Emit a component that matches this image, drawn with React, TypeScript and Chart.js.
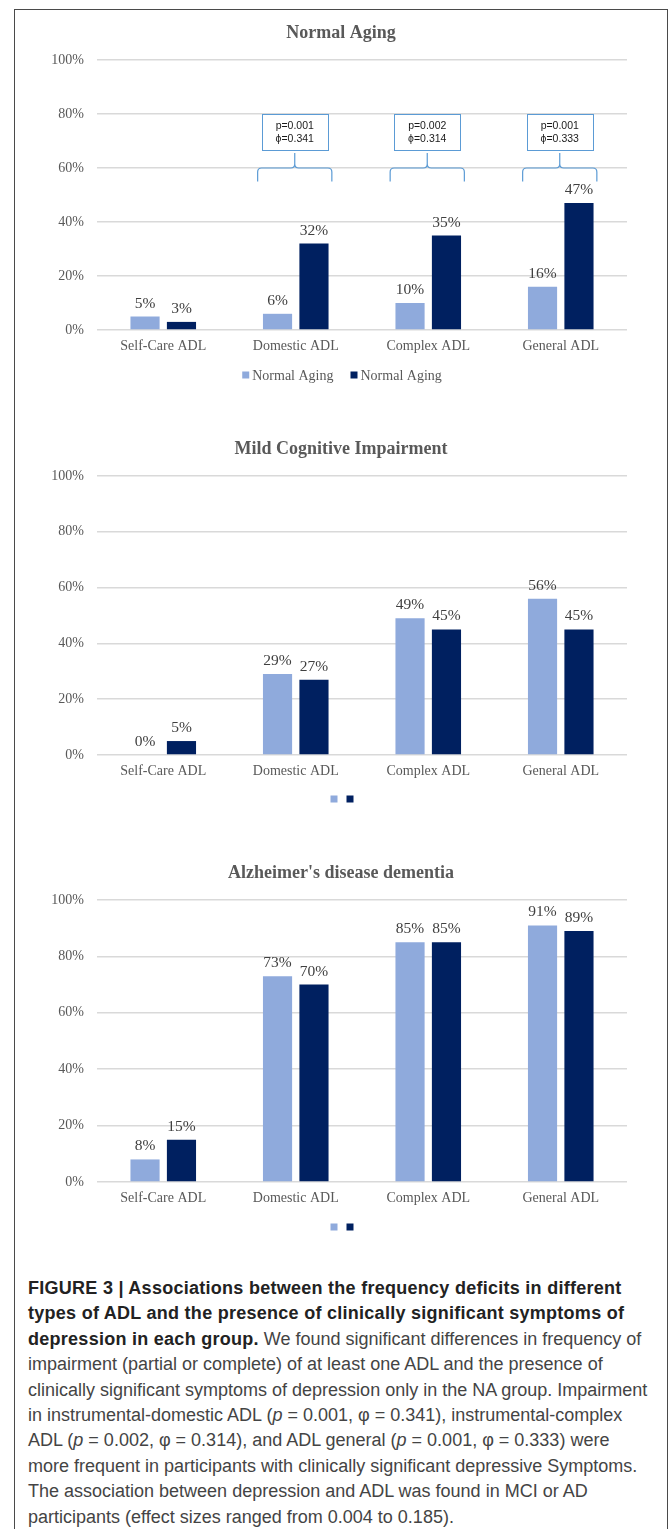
import React, { useEffect, useRef } from "react";
import { Chart, registerables } from "chart.js";

Chart.register(...registerables);

// ---------- data ----------
const categories = ["Self-Care ADL", "Domestic ADL", "Complex ADL", "General ADL"];
const yTickValues = [0, 20, 40, 60, 80, 100];

const naTitle = "Normal Aging";
const naWithout = [5, 6, 10, 16];
const naWith = [3, 32, 35, 47];
const naLegend = ["Normal Aging", "Normal Aging"];

const mciTitle = "Mild Cognitive Impairment";
const mciWithout = [0, 29, 49, 56];
const mciWith = [5, 27, 45, 45];
const mciLegend = ["", ""];

const adTitle = "Alzheimer's disease dementia";
const adWithout = [8, 73, 85, 91];
const adWith = [15, 70, 85, 89];
const adLegend = ["", ""];

const sigCategories = ["Domestic ADL", "Complex ADL", "General ADL"];
const sigP = ["p=0.001", "p=0.002", "p=0.001"];
const sigPhi = ["ϕ=0.341", "ϕ=0.314", "ϕ=0.333"];

// ---------- styling ----------
const SERIF = '"Liberation Serif", "Times New Roman", serif';
const SANS = '"Liberation Sans", Arial, sans-serif';
const LIGHT = "#8FAADC";
const DARK = "#002060";
const TEXT_GRAY = "#595959";
const PAGE_W = 670;
const PLOT_LEFT = 97;
const PLOT_RIGHT = 627;
const Y_AXIS_W = 60;
const X_AXIS_H = 30;
const CENTER_X = 341;

type PanelProps = {
  title: string;
  seriesA: number[];
  seriesB: number[];
  legend: string[];
  top: number;
  height: number;
  plotTop: number;
  plotBottom: number;
  titleY: number;
  legendY: number;
  annotate?: boolean;
};

function BarPanel(p: PanelProps) {
  const ref = useRef<HTMLCanvasElement | null>(null);

  useEffect(() => {
    const canvas = ref.current;
    if (!canvas) return;

    const decor = {
      id: "decor",
      afterDatasetsDraw(chart: any) {
        const ctx = chart.ctx;
        ctx.save();
        ctx.font = `15.5px ${SERIF}`;
        ctx.fillStyle = "#404040";
        ctx.textAlign = "center";
        ctx.textBaseline = "alphabetic";
        chart.data.datasets.forEach((ds: any, di: number) => {
          const meta = chart.getDatasetMeta(di);
          meta.data.forEach((bar: any, i: number) => {
            ctx.fillText(`${ds.data[i]}%`, bar.x, bar.y - 9);
          });
        });
        ctx.restore();
      },
      afterDraw(chart: any) {
        const ctx = chart.ctx;
        ctx.save();
        // title
        ctx.font = `bold 18px ${SERIF}`;
        ctx.fillStyle = TEXT_GRAY;
        ctx.textAlign = "center";
        ctx.textBaseline = "middle";
        ctx.fillText(p.title, CENTER_X, p.titleY - p.top);

        // legend
        ctx.font = `14px ${SERIF}`;
        const box = 7;
        const items = chart.data.datasets.map((ds: any) => {
          const label = ds.label || "";
          const tw = label ? ctx.measureText(label).width : 0;
          return { label, color: ds.backgroundColor, w: box + (label ? 3 + tw : 0) };
        });
        const gap = items.some((it: any) => it.label) ? 17 : 9;
        const total = items.reduce((s: number, it: any) => s + it.w, 0) + gap * (items.length - 1);
        let x = CENTER_X + 1 - total / 2;
        const ly = p.legendY - p.top;
        ctx.textAlign = "left";
        ctx.textBaseline = "middle";
        items.forEach((it: any) => {
          ctx.fillStyle = it.color;
          ctx.fillRect(x, ly - box / 2, box, box);
          if (it.label) {
            ctx.fillStyle = TEXT_GRAY;
            ctx.fillText(it.label, x + box + 3, ly + 1);
          }
          x += it.w + gap;
        });

        // significance annotations
        if (p.annotate) {
          const xs = chart.scales.x;
          const ys = chart.scales.y;
          const catW = (chart.chartArea.right - chart.chartArea.left) / categories.length;
          sigCategories.forEach((cat, k) => {
            const cx = xs.getPixelForValue(categories.indexOf(cat)) - 1;
            // box
            const bw = catW * 0.5;
            const bTop = ys.getPixelForValue(80);
            const bBot = ys.getPixelForValue(66.5);
            ctx.strokeStyle = "#5B9BD5";
            ctx.lineWidth = 1;
            ctx.strokeRect(Math.round(cx - bw / 2) + 0.5, Math.round(bTop) + 0.5, Math.round(bw), Math.round(bBot - bTop));
            ctx.fillStyle = "#1a1a1a";
            ctx.font = `10.5px ${SANS}`;
            ctx.textAlign = "center";
            ctx.textBaseline = "middle";
            ctx.fillText(sigP[k], cx, bTop + 12.5);
            ctx.fillText(sigPhi[k], cx, bTop + 25);
            // brace
            const w = catW * 0.56;
            const L = cx - w / 2;
            const R = cx + w / 2;
            const yH = ys.getPixelForValue(60);
            const yE = ys.getPixelForValue(55);
            const yP = ys.getPixelForValue(65.6);
            const r = 4;
            ctx.lineWidth = 1.2;
            ctx.beginPath();
            ctx.moveTo(L, yE);
            ctx.lineTo(L, yH + r);
            ctx.quadraticCurveTo(L, yH, L + r, yH);
            ctx.lineTo(cx - r, yH);
            ctx.quadraticCurveTo(cx, yH, cx, yH - r);
            ctx.lineTo(cx, yP);
            ctx.moveTo(cx, yH - r);
            ctx.quadraticCurveTo(cx, yH, cx + r, yH);
            ctx.lineTo(R - r, yH);
            ctx.quadraticCurveTo(R, yH, R, yH + r);
            ctx.lineTo(R, yE);
            ctx.stroke();
          });
        }
        ctx.restore();
      },
    };

    const chart = new Chart(canvas, {
      type: "bar",
      data: {
        labels: categories,
        datasets: [
          { label: p.legend[0], data: p.seriesA, backgroundColor: LIGHT, borderWidth: 0 },
          { label: p.legend[1], data: p.seriesB, backgroundColor: DARK, borderWidth: 0 },
        ],
      },
      options: {
        responsive: false,
        animation: false,
        events: [],
        datasets: { bar: { categoryPercentage: 0.55, barPercentage: 0.8 } },
        layout: {
          padding: {
            top: p.plotTop - p.top,
            left: PLOT_LEFT - Y_AXIS_W,
            right: PAGE_W - PLOT_RIGHT,
            bottom: p.top + p.height - p.plotBottom - X_AXIS_H,
          },
        },
        plugins: {
          legend: { display: false },
          title: { display: false },
          tooltip: { enabled: false },
        },
        scales: {
          x: {
            grid: { display: false, drawTicks: false },
            border: { display: false },
            ticks: { color: TEXT_GRAY, font: { family: SERIF, size: 14 }, padding: 8 },
            afterFit: (s: any) => {
              s.height = X_AXIS_H;
            },
          },
          y: {
            min: yTickValues[0],
            max: yTickValues[yTickValues.length - 1],
            afterBuildTicks: (s: any) => {
              s.ticks = yTickValues.map((v) => ({ value: v }));
            },
            ticks: {
              color: TEXT_GRAY,
              font: { family: SERIF, size: 14 },
              padding: 13,
              callback: (v: any) => `${v}%`,
            },
            grid: { color: "#D9D9D9", lineWidth: 1.5, drawTicks: false },
            border: { display: false },
            afterFit: (s: any) => {
              s.width = Y_AXIS_W;
            },
          },
        },
      },
      plugins: [decor],
    } as any);

    return () => chart.destroy();
  }, []);

  return (
    <canvas
      ref={ref}
      width={PAGE_W}
      height={p.height}
      style={{ position: "absolute", left: 0, top: p.top, width: PAGE_W, height: p.height }}
    />
  );
}

const captionStyle: React.CSSProperties = {
  position: "absolute",
  left: 28,
  top: 1276,
  fontFamily: SANS,
  fontSize: 18,
  lineHeight: "25.4px",
  color: "#444",
  whiteSpace: "nowrap",
};

const boldStyle: React.CSSProperties = { color: "#222", fontWeight: "bold", letterSpacing: "0.27px" };

export default function App() {
  return (
    <div>
      <div
        style={{
          position: "absolute",
          left: 14,
          top: 9,
          width: 654,
          height: 1520,
          boxSizing: "border-box",
          border: "1px solid #4a4a4a",
          borderBottom: "none",
          background: "#fff",
        }}
      />
      <BarPanel
        title={naTitle}
        seriesA={naWithout}
        seriesB={naWith}
        legend={naLegend}
        top={0}
        height={400}
        plotTop={60}
        plotBottom={330}
        titleY={33}
        legendY={375}
        annotate
      />
      <BarPanel
        title={mciTitle}
        seriesA={mciWithout}
        seriesB={mciWith}
        legend={mciLegend}
        top={410}
        height={410}
        plotTop={476}
        plotBottom={755}
        titleY={449}
        legendY={799}
      />
      <BarPanel
        title={adTitle}
        seriesA={adWithout}
        seriesB={adWith}
        legend={adLegend}
        top={840}
        height={410}
        plotTop={900}
        plotBottom={1182}
        titleY={873}
        legendY={1227}
      />
      <div style={captionStyle}>
        <div style={boldStyle}>FIGURE 3 | Associations between the frequency deficits in different</div>
        <div style={boldStyle}>types of ADL and the presence of clinically significant symptoms of</div>
        <div>
          <span style={boldStyle}>depression in each group.</span> We found significant differences in frequency of
        </div>
        <div>impairment (partial or complete) of at least one ADL and the presence of</div>
        <div>clinically significant symptoms of depression only in the NA group. Impairment</div>
        <div>
          in instrumental-domestic ADL (<i>p</i> = 0.001, φ = 0.341), instrumental-complex
        </div>
        <div>
          ADL (<i>p</i> = 0.002, φ = 0.314), and ADL general (<i>p</i> = 0.001, φ = 0.333) were
        </div>
        <div>more frequent in participants with clinically significant depressive Symptoms.</div>
        <div>The association between depression and ADL was found in MCI or AD</div>
        <div>participants (effect sizes ranged from 0.004 to 0.185).</div>
      </div>
    </div>
  );
}
